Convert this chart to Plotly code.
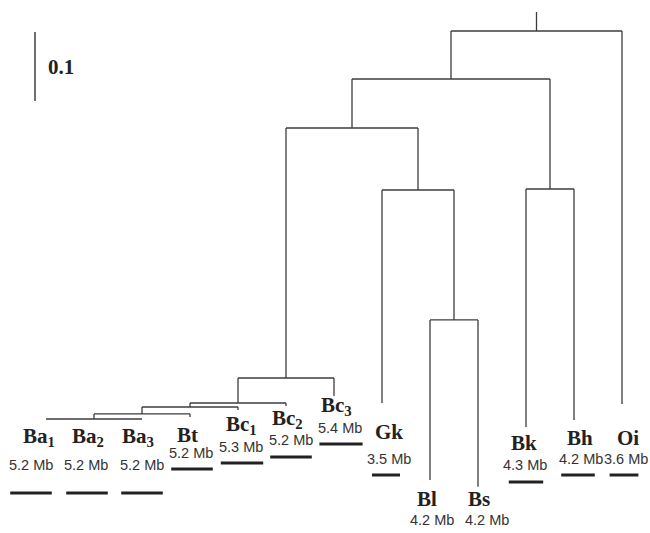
import plotly.graph_objects as go

# ---------------- data ----------------
leaf_names = ["Ba1", "Ba2", "Ba3", "Bt", "Bc1", "Bc2", "Bc3", "Gk", "Bl", "Bs", "Bk", "Bh", "Oi"]
leaf_labels = ["Ba<sub>1</sub>", "Ba<sub>2</sub>", "Ba<sub>3</sub>", "Bt", "Bc<sub>1</sub>",
               "Bc<sub>2</sub>", "Bc<sub>3</sub>", "Gk", "Bl", "Bs", "Bk", "Bh", "Oi"]
genome_mb = [5.2, 5.2, 5.2, 5.2, 5.3, 5.2, 5.4, 3.5, 4.2, 4.2, 4.3, 4.2, 3.6]
leaf_depth = [0.5623, 0.5623, 0.5623, 0.5594, 0.5493, 0.5435, 0.529,
              0.5391, 0.6507, 0.6604, 0.5739, 0.5638, 0.5406]
show_bar = [True, True, True, True, True, True, True, True, False, False, True, True, True]

# internal nodes: name, children, depth (distance from root)
node_names = ["n1", "n2", "n3", "n4", "n5", "n6", "n7", "n8", "n9", "n10", "root"]
node_children = [["Ba1", "Ba2", "Ba3"], ["n1", "Bt"], ["n2", "Bc1"], ["n3", "Bc2"], ["n4", "Bc3"],
                 ["Bl", "Bs"], ["Gk", "n6"], ["n5", "n7"], ["Bk", "Bh"], ["n8", "n9"], ["n10", "Oi"]]
node_depth = [0.5623, 0.555, 0.5449, 0.5391, 0.5029, 0.4188, 0.2304, 0.1406, 0.229, 0.0696, 0.0]
root_stem = 0.0275
scale_len = 0.1

# ---------------- layout helpers (pixel placement of labels) ----------------
X0, DX = 46.0, 48.0      # pixel x of first leaf, leaf spacing
Y0, DY = 31.0, 690.0     # pixel y of root node, pixels per unit distance
W, H = 650, 533

def px_x(p):
    return (p - X0) / DX

def px_y(p):
    return (p - Y0) / DY

# label placement (pixel): name center x offset, name y, mb x offset, mb y, bar center offset, bar y
name_dx = [-7, -6, -4, -3, 3, 1, 2, 7, -3, 1, -2, 6, 6]
name_y = [437, 437, 437, 435, 425, 419, 406, 432, 499, 499, 443, 438, 438]
mb_dx = [-15, -8, 0, 1, 3, 5, 6, 7, 2, 9, -1, 7, 4]
mb_y = [465, 465, 465, 453, 447, 440, 428, 459, 520, 520, 465, 459, 459]
bar_dx = [-15, -7, 0, 2, 4, 5, 7, 4, 0, 0, 0, 4, 2]
bar_y = [493, 493, 493, 469, 463, 457, 444, 475, 0, 0, 482, 475, 475]

# ---------------- tree geometry ----------------
pos = {}
depth = {}
for i, n in enumerate(leaf_names):
    pos[n] = float(i)
    depth[n] = leaf_depth[i]
for n, ch, d in zip(node_names, node_children, node_depth):
    xs = [pos[c] for c in ch]
    pos[n] = (min(xs) + max(xs)) / 2
    depth[n] = d

lx, ly = [], []
for n, ch in zip(node_names, node_children):
    xs = [pos[c] for c in ch]
    lx += [min(xs), max(xs), None]
    ly += [depth[n], depth[n], None]
    for c in ch:
        lx += [pos[c], pos[c], None]
        ly += [depth[n], depth[c], None]
lx += [pos["root"], pos["root"], None]
ly += [-root_stem, 0.0, None]

fig = go.Figure()
fig.add_trace(go.Scatter(x=lx, y=ly, mode="lines",
                         line=dict(color="#3c3c3c", width=1.3),
                         hoverinfo="skip", showlegend=False))

# scale bar
sb_x = px_x(35)
sb_top = px_y(32)
fig.add_trace(go.Scatter(x=[sb_x, sb_x], y=[sb_top, sb_top + scale_len], mode="lines",
                         line=dict(color="#333333", width=1.4),
                         hoverinfo="skip", showlegend=False))
fig.add_annotation(x=px_x(46), y=px_y(67), text="<b>%g</b>" % scale_len, showarrow=False,
                   xanchor="left", yanchor="middle",
                   font=dict(family="Liberation Serif", size=21, color="#222222"))

# genome size bars
bx, by = [], []
for i in range(len(leaf_names)):
    if not show_bar[i]:
        continue
    cx = X0 + DX * i + bar_dx[i]
    half = genome_mb[i] * 8.0 / 2
    bx += [px_x(cx - half), px_x(cx + half), None]
    by += [px_y(bar_y[i]), px_y(bar_y[i]), None]
fig.add_trace(go.Scatter(x=bx, y=by, mode="lines",
                         line=dict(color="#222222", width=3),
                         hoverinfo="skip", showlegend=False))

# labels
for i in range(len(leaf_names)):
    lxp = X0 + DX * i
    fig.add_annotation(x=px_x(lxp + name_dx[i]), y=px_y(name_y[i]), text="<b>%s</b>" % leaf_labels[i],
                       showarrow=False, xanchor="center", yanchor="middle",
                       font=dict(family="Liberation Serif", size=21, color="#222222"))
    fig.add_annotation(x=px_x(lxp + mb_dx[i]), y=px_y(mb_y[i]), text="%.1f Mb" % genome_mb[i],
                       showarrow=False, xanchor="center", yanchor="middle",
                       font=dict(family="Liberation Sans", size=14.5, color="#333333"))

fig.update_layout(
    width=W, height=H,
    margin=dict(l=0, r=0, t=0, b=0),
    paper_bgcolor="white", plot_bgcolor="white",
    xaxis=dict(range=[px_x(0), px_x(W)], visible=False, fixedrange=True),
    yaxis=dict(range=[px_y(H), px_y(0)], visible=False, fixedrange=True),
)

fig.write_html("out.html", config={"displayModeBar": False},
               post_script="document.body.style.margin='0';document.body.style.overflow='hidden';")
